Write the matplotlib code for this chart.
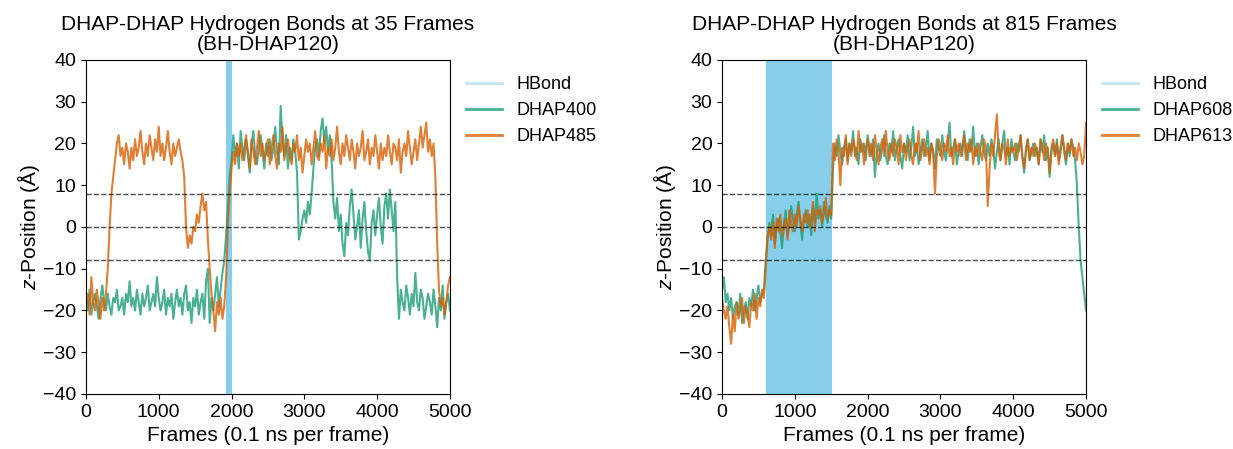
import numpy as np
import matplotlib
matplotlib.use("Agg")
import matplotlib.pyplot as plt
from matplotlib.lines import Line2D

plt.rcParams['font.family'] = ['Liberation Sans', 'DejaVu Sans']
plt.rcParams['mathtext.fontset'] = 'custom'
plt.rcParams['mathtext.it'] = 'Liberation Sans:italic'
plt.rcParams['mathtext.rm'] = 'Liberation Sans'

# frames sampled every 25 frames
frames = np.arange(0, 5001, 25)

# left panel: 35 frames with hydrogen bond
hbond_left = [1920, 2000]
dhap400 = [
    -17, -20, -15, -21, -18, -16, -19, -22, -17, -14,
    -18, -20, -16, -19, -21, -17, -18, -15, -20, -19,
    -17, -21, -16, -18, -13, -19, -17, -20, -15, -18,
    -21, -16, -19, -17, -14, -20, -18, -16, -19, -12,
    -17, -20, -18, -15, -21, -17, -19, -16, -22, -18,
    -15, -19, -17, -21, -16, -14, -20, -18, -23, -17,
    -19, -15, -21, -18, -16, -22, -13, -10, -23, -17,
    -20, -16, -12, -19, -15, -11,
    -8, -2, 5, 12, 16, 22, 17, 20, 14, 23,
    19, 16, 21, 18, 13, 20, 23, 17, 15, 19,
    22, 18, 14, 20, 17, 21, 16, 19, 24, 18,
    15, 29, 20, 17, 22, 14, 19, 16, 21, 18,
    13,
    -3, -1, 2, 4, 1, 6, 3, 8, 14, 19,
    21, 17, 23, 26, 20, 24, 18, 22, 16,
    6, 2, 7, -1, 3, -4, -7, 1, -2, 5,
    9, 3, -3, 0, 4, -5, 2, 6, -1, -6,
    -8, 1, 4, -2, 3, 7, 0, -4, 5, 8,
    2, 9, 4, -1, 6,
    -12, -22, -15, -18, -20, -14, -17, -21, -16, -19,
    -11, -18, -20, -15, -17, -22, -19, -16, -18, -21,
    -15, -19, -24, -17, -20, -14, -22, -18, -16, -20,
]
dhap485 = [
    -19, -16, -21, -12, -18, -20, -15, -19, -22, -17, -20, -16,
    -10, 0, 8, 12, 16, 20,
    22, 17, 19, 15, 20, 18, 14, 19, 16, 21,
    17, 19, 23, 18, 15, 20, 17, 22, 19, 16,
    21, 18, 24, 17, 20, 16, 19, 23, 18, 15,
    20, 17, 19, 21, 18, 16,
    12, 0, -5, -2, -4, 0, -1, 3, 1, 5, 8, 4, 6,
    -3, -10, -16, -20, -25, -18, -21, -17, -22, -19,
    -12, 0, 8, 14, 18, 15, 20, 17,
    20, 16, 19, 22, 17, 14, 21, 18, 15, 19,
    23, 17, 20, 16, 18, 21, 15, 19, 22, 17,
    14, 20, 18, 24, 16, 19, 21, 17, 15, 20,
    18, 22, 16, 19, 13, 17, 21, 18, 20, 15,
    19, 23, 17, 16, 20, 18, 22, 14, 19, 17,
    21, 16, 19, 24, 18, 15, 20, 17, 22, 19,
    16, 21, 18, 14, 20, 17, 19, 23, 16, 18,
    21, 15, 19, 17, 22, 18, 14, 20, 16, 19,
    17, 22, 18, 15, 20, 19, 16, 21, 13, 18,
    20, 17, 23, 19, 15, 18, 21, 16, 20, 24,
    19, 22, 25, 18, 21, 17, 20,
    12, -4, -15, -19, -17, -21, -18, -14, -12,
]

# right panel: 815 frames with hydrogen bond
hbond_right = [600, 1510]
dhap608 = [
    -15, -12, -18, -16, -20, -17, -22, -19, -18, -21, -16, -23,
    -20, -18, -22, -17, -19, -15, -20, -17, -14, -18, -16, -15,
    -8, -3, 1, -2, 3, -4, 0, 2, -1, -5,
    1, 4, -2, 0, 5, 2, -1, 3, 6, 1,
    -3, 2, 4, 0, 3, -2, 5, 1, 8, 2,
    4, 0, 6, 3, 1, 5, 2,
    14, 20, 17, 22, 18, 15, 19, 21, 16, 20,
    18, 23, 17, 19, 15, 21, 18, 20, 16, 22,
    19, 17, 21, 12, 18, 20, 16, 19, 22, 17,
    15, 20, 18, 23, 16, 19, 21, 17, 14, 20,
    18, 22, 16, 19, 24, 17, 20, 15, 18, 21,
    17, 19, 23, 16, 20, 18, 14, 21, 19, 17,
    22, 18, 16, 20, 25, 17, 19, 21, 15, 18,
    20, 17, 23, 19, 16, 21, 18, 24, 17, 20,
    15, 19, 22, 18, 16, 20, 17, 21, 19, 14,
    18, 21, 16, 20, 23, 17, 19, 15, 21, 18,
    16, 20, 18, 22, 17, 13, 19, 21, 16, 18,
    20, 17, 19, 15, 21, 18, 22, 16, 19, 12,
    18, 20, 17, 21, 16, 19, 22, 18, 15, 20,
    17, 21, 19, 16,
    10, 0, -8, -12, -16, -20,
]
dhap613 = [
    -17, -20, -22, -19, -24, -28, -21, -25, -18, -22, -20, -17,
    -23, -19, -21, -24, -18, -20, -16, -22, -17, -19, -15, -17,
    -10, -2, 0, -3, 1, -5, 2, -1, 3, -2,
    0, 2, -3, 4, 1, -1, 3, 0, 5, 2,
    -1, 3, 1, 4, 0, 2, 6, -1, 4, 3,
    5, 1, 3, 7, 2, 4, 3,
    20, 16, 21, 18, 10, 19, 17, 22, 15, 20,
    17, 21, 19, 16, 23, 18, 20, 15, 19, 21,
    17, 20, 16, 22, 18, 15, 19, 21, 17, 23,
    18, 16, 20, 17, 21, 19, 15, 22, 18, 20,
    16, 19, 21, 17, 15, 20, 18, 23, 16, 19,
    21, 17, 19, 15, 20, 18, 8, 17, 21, 19,
    16, 20, 18, 22, 17, 19, 15, 21, 18, 20,
    17, 19, 22, 16, 20, 18, 21, 15, 19, 17,
    20, 18, 16, 21, 19, 5, 14, 20, 17, 22,
    27, 18, 16, 20, 19, 15, 21, 17, 19, 18,
    20, 16, 19, 22, 17, 14, 18, 21, 16, 19,
    17, 20, 18, 15, 21, 19, 16, 20, 18, 13,
    19, 21, 17, 20, 15, 18, 22, 19, 16, 20,
    18, 21, 17, 19, 16, 20, 18, 15, 17, 25,
]

green = '#1b9e77'
orange = '#d95f02'


def plot_panel(ax, n_frames, hbond, res_a, res_b, name_a, name_b):
    ax.axvspan(hbond[0], hbond[1], color='skyblue', lw=0)
    ax.plot(frames, res_a, color=green, alpha=0.8, lw=1.5)
    ax.plot(frames, res_b, color=orange, alpha=0.8, lw=1.5)
    for y in [-8, 0, 8]:
        ax.axhline(y, color='k', ls='--', lw=1, alpha=0.7)
    ax.set_xlim(0, 5000)
    ax.set_ylim(-40, 40)
    ax.set_xticks(range(0, 5001, 1000))
    ax.set_yticks(range(-40, 41, 10))
    ax.tick_params(labelsize=14)
    ax.set_title(f"DHAP-DHAP Hydrogen Bonds at {n_frames} Frames\n(BH-DHAP120)",
                 fontsize=15, linespacing=1.1, pad=7)
    ax.set_xlabel("Frames (0.1 ns per frame)", fontsize=15, labelpad=4)
    ax.set_ylabel("$z$-Position (Å)", fontsize=15, labelpad=1)
    handles = [Line2D([], [], color='skyblue', alpha=0.5, lw=2),
               Line2D([], [], color=green, alpha=0.8, lw=2),
               Line2D([], [], color=orange, alpha=0.8, lw=2)]
    ax.legend(handles, ["HBond", name_a, name_b], loc='upper left',
              bbox_to_anchor=(1.0, 1.0), frameon=False, fontsize=13)


fig = plt.figure(figsize=(12.33, 4.49), dpi=100)
ax1 = fig.add_axes([0.0697, 0.1225, 0.2952, 0.7439])
ax2 = fig.add_axes([0.5856, 0.1225, 0.2952, 0.7439])

plot_panel(ax1, 35, hbond_left, dhap400, dhap485, "DHAP400", "DHAP485")
plot_panel(ax2, 815, hbond_right, dhap608, dhap613, "DHAP608", "DHAP613")

fig.savefig("out.png", dpi=100)
